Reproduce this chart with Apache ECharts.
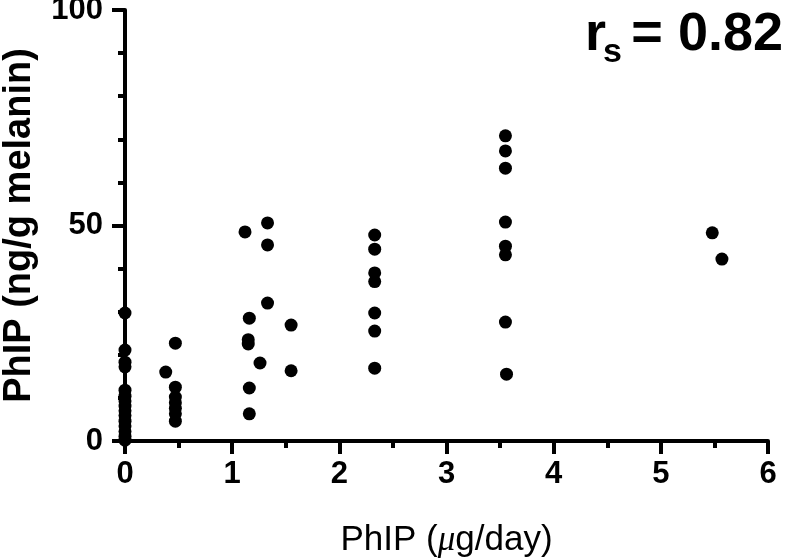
<!DOCTYPE html>
<html>
<head>
<meta charset="utf-8">
<script src="https://cdn.jsdelivr.net/npm/echarts@6/dist/echarts.min.js"></script>
<style>
  html, body { margin: 0; padding: 0; background: #fff; }
  #chart { width: 787px; height: 559px; }
</style>
</head>
<body>
<div id="chart"></div>
<script>
// PhIP intake (ug/day) vs PhIP in hair (ng/g melanin)
const doseX = [
    0, 0, 0, 0, 0, 0, 0, 0, 0, 0, 0, 0, 0, 0, 0,
    0.38,
    0.47, 0.47, 0.47, 0.47, 0.47, 0.47, 0.47,
    1.12, 1.33, 1.33, 1.33, 1.16, 1.15, 1.15, 1.26, 1.55, 1.55, 1.16, 1.16,
    2.33, 2.33, 2.33, 2.33, 2.33, 2.33, 2.33,
    3.55, 3.55, 3.55, 3.55, 3.55, 3.55, 3.55, 3.56,
    5.48, 5.57
];
const phipY = [
    29.7, 21.1, 18.3, 17.2, 11.8, 10.4, 9.3, 8.1, 7.0, 5.9, 4.6, 3.5, 2.2, 1.1, 0.2,
    16.0,
    22.7, 12.5, 10.2, 8.9, 7.6, 6.3, 4.6,
    48.5, 50.6, 45.5, 32.0, 28.5, 23.5, 22.5, 18.1, 26.9, 16.3, 12.3, 6.3,
    47.8, 44.5, 39.0, 37.0, 29.7, 25.5, 16.9,
    70.8, 67.3, 63.3, 50.8, 45.2, 43.2, 27.6, 15.5,
    48.3, 42.2
];
const corrLabel = '= 0.82';

const chart = echarts.init(document.getElementById('chart'));

const axisLine = { show: true, lineStyle: { color: '#000', width: 4 } };
const tickLabel = { color: '#000', fontFamily: 'Liberation Sans, Arial, sans-serif', fontWeight: 'bold', fontSize: 31 };

const option = {
    animation: false,
    grid: { left: 125, right: 19, top: 10, bottom: 118, containLabel: false, outerBoundsMode: 'none' },
    xAxis: {
        type: 'value',
        min: 0,
        max: 6,
        interval: 1,
        name: 'PhIP ({mu|μ}g/day)',
        nameLocation: 'middle',
        nameGap: 82,
        nameTextStyle: {
            color: '#000', fontFamily: 'Liberation Sans, Arial, sans-serif', fontSize: 35,
            rich: { mu: { fontStyle: 'italic', fontSize: 35, fontFamily: 'Liberation Serif, serif', color: '#000' } }
        },
        axisLine: axisLine,
        axisTick: { show: true, length: 13, lineStyle: { color: '#000', width: 4 } },
        minorTick: { show: true, splitNumber: 2, length: 7, lineStyle: { color: '#000', width: 4 } },
        splitLine: { show: false },
        axisLabel: { ...tickLabel, margin: 18 }
    },
    yAxis: {
        type: 'value',
        min: 0,
        max: 100,
        interval: 50,
        name: 'PhIP (ng/g melanin)',
        nameLocation: 'middle',
        nameRotate: 90,
        nameGap: 86,
        nameTextStyle: { color: '#000', fontFamily: 'Liberation Sans, Arial, sans-serif', fontWeight: 'bold', fontSize: 38 },
        axisLine: axisLine,
        axisTick: { show: true, length: 13, lineStyle: { color: '#000', width: 4 } },
        minorTick: { show: true, splitNumber: 5, length: 7, lineStyle: { color: '#000', width: 4 } },
        splitLine: { show: false },
        axisLabel: { ...tickLabel, margin: 22 }
    },
    graphic: [
        {
            type: 'text', left: 585, top: 8,
            style: { text: 'r', fill: '#000', font: 'bold 54px Liberation Sans, Arial, sans-serif' }
        },
        {
            type: 'text', left: 603, top: 36,
            style: { text: 's', fill: '#000', font: 'bold 34px Liberation Sans, Arial, sans-serif' }
        },
        {
            type: 'text', right: 4, top: 8,
            style: { text: corrLabel, fill: '#000', font: 'bold 54px Liberation Sans, Arial, sans-serif' }
        }
    ],
    series: [
        {
            type: 'scatter',
            symbol: 'circle',
            symbolSize: 13,
            itemStyle: { color: '#000', opacity: 1 },
            data: doseX.map((x, i) => [x, phipY[i]]),
            clip: false
        }
    ]
};

chart.setOption(option);
</script>
</body>
</html>
